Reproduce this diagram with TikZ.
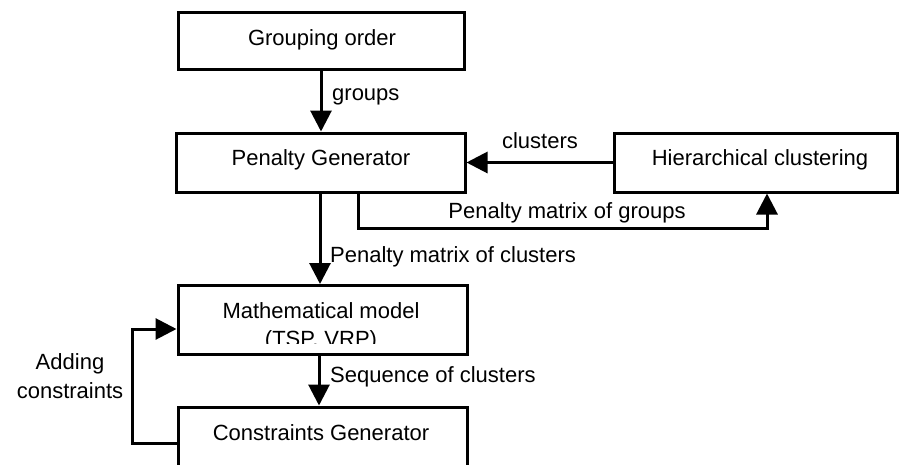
\documentclass[tikz,border=0pt]{standalone}
\usepackage{fontspec}
\setmainfont{Liberation Sans}
\usetikzlibrary{arrows.meta}
\begin{document}
\begin{tikzpicture}[x=1pt,y=-1pt,
  box/.style={draw=black,line width=3pt,fill=white,inner sep=0pt},
  lbl/.style={font=\fontsize{22}{29}\selectfont,inner sep=0pt},
  conn/.style={line width=3pt,-{Triangle[length=21pt,width=21pt]}}]
\clip (0,0) rectangle (899,464);
\fill[white] (0,0) rectangle (899,464);
% boxes
\node[box,minimum width=286pt,minimum height=57pt] (go) at (321,40.5) {};
\node[lbl] (got) at (322,40) {Grouping order};
\node[box,minimum width=289pt,minimum height=59pt] (pg) at (320.5,162.5) {};
\node[lbl] (pgt) at (321,160) {Penalty Generator};
\node[box,minimum width=283pt,minimum height=59pt] (hc) at (756,162.5) {};
\node[lbl] (hct) at (760,160) {Hierarchical clustering};
\node[box,minimum width=289pt,minimum height=69pt] (mm) at (322.5,320) {};
\node[lbl] (mmt1) at (321,311) {Mathematical model};
\begin{scope}
\clip (180,325) rectangle (465,343);
\node[lbl] (mmt2) at (321,341) {(TSP, VRP)};
\end{scope}
\node[box,minimum width=289pt,minimum height=62pt] (cg) at (322.5,438) {};
\node[lbl] (cgt) at (321,433) {Constraints Generator};
% connectors
\draw[conn] (go.south -| 321,0) -- (pg.north -| 321,0);
\node[lbl,anchor=west] (l1) at (332,97) {groups};
\draw[conn] (hc.west) -- (pg.east);
\node[lbl] (l2) at (540,141) {clusters};
\coordinate (a1) at (358,228);
\coordinate (a2) at (767,228);
\draw[conn] (pg.south -| a1) -- (a1) -- (a2) -- (hc.south -| a2);
\node[lbl] (l3) at (567,213) {Penalty matrix of groups};
\draw[conn] (pg.south -| 320,0) -- (mm.north -| 320,0);
\node[lbl,anchor=west] (l4) at (330,257) {Penalty matrix of clusters};
\draw[conn] (mm.south -| 319,0) -- (cg.north -| 319,0);
\node[lbl,anchor=west] (l5) at (330,377) {Sequence of clusters};
\coordinate (b1) at (132,443);
\coordinate (b2) at (132,329);
\draw[conn] (cg.west |- b1) -- (b1) -- (b2) -- (mm.west |- b2);
\node[lbl,align=center] (l6) at (70,376) {Adding\\constraints};
\end{tikzpicture}
\end{document}
